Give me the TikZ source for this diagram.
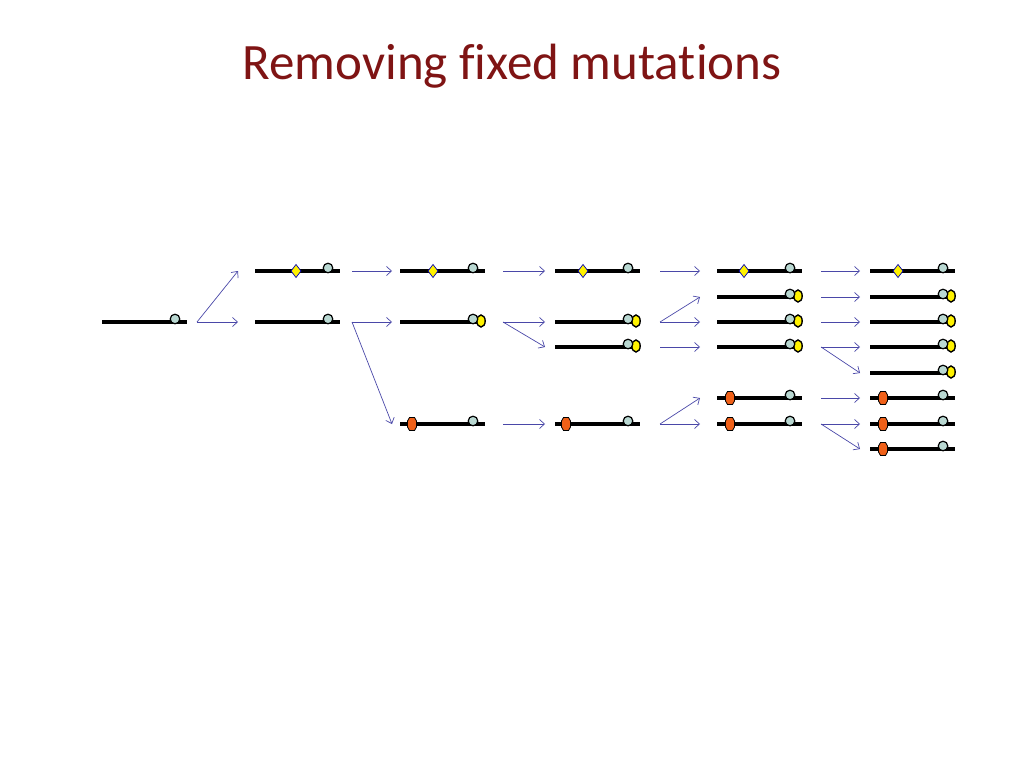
\documentclass[tikz,border=0pt]{standalone}
\usepackage{fontspec}
\setmainfont[Ligatures=NoCommon]{Carlito}
\usetikzlibrary{arrows.meta,shapes.geometric}

\definecolor{titlered}{HTML}{7F1414}
\definecolor{siteblue}{HTML}{B9D8D2}
\definecolor{arrblue}{HTML}{4A48A8}
\definecolor{fixorange}{HTML}{F06018}

\tikzset{
  chrline/.style={line width=3.2pt},
  arr/.style={draw=arrblue, line width=0.7pt, -{Straight Barb[length=5pt,width=9pt]}},
  basesite/.style={draw, fill=siteblue, line width=1.2pt},
  newsite/.style={draw, fill=yellow, line width=1.4pt},
  fixsite/.style={draw=blue!70!black, fill=yellow, line width=0.7pt},
  fixsitetwo/.style={draw, fill=fixorange, line width=0.8pt}
}

% chromosome: x of left end, y, name
\newcommand{\chrom}[3]{%
  \coordinate (#3W) at (#1,#2);
  \coordinate (#3E) at (#1+85,#2);
  \draw[chrline] (#3W) -- (#3E);
}
\newcommand{\siteB}[1]{\draw[basesite] ([xshift=-12,yshift=3]#1E) circle (4.8);}
\newcommand{\siteY}[1]{\draw[newsite] ([xshift=-4,yshift=1]#1E) ellipse (4.2 and 6);
  \draw[basesite] ([xshift=-12,yshift=3]#1E) circle (4.8);}
\newcommand{\siteD}[2]{\draw[fixsite] ([xshift=#2]#1W) ++(0,-6.5) -- ++(5,6.5) -- ++(-5,6.5) -- ++(-5,-6.5) -- cycle;}
\newcommand{\siteO}[2]{\draw[fixsitetwo] ([xshift=#2]#1W) ++(-4.5,-3) -- ++(2,-3.5) -- ++(5,0) -- ++(2,3.5) -- ++(0,6) -- ++(-2,3.5) -- ++(-5,0) -- ++(-2,-3.5) -- cycle;}

\begin{document}
\begin{tikzpicture}[x=1pt,y=-1pt]
  \useasboundingbox (0,0) rectangle (1024,768);

  % Titel
  \node[text=titlered, font=\fontsize{51}{60}\selectfont] (title) at (512,66) {Removing fixed mutations};

  % Generation 0
  \chrom{102}{322}{a}\siteB{a}

  % Generation 1
  \chrom{255}{271}{bA}\siteD{bA}{41}\siteB{bA}
  \chrom{255}{322}{bC}\siteB{bC}

  % Generation 2
  \chrom{400}{271}{cA}\siteD{cA}{33}\siteB{cA}
  \chrom{400}{322}{cC}\siteY{cC}
  \chrom{400}{424}{cG}\siteO{cG}{12}\siteB{cG}

  % Generation 3
  \chrom{555}{271}{dA}\siteD{dA}{28}\siteB{dA}
  \chrom{555}{322}{dC}\siteY{dC}
  \chrom{555}{347}{dD}\siteY{dD}
  \chrom{555}{424}{dG}\siteO{dG}{11}\siteB{dG}

  % Generation 4
  \chrom{717}{271}{eA}\siteD{eA}{27}\siteB{eA}
  \foreach \r/\y in {B/297,C/322,D/347}{\chrom{717}{\y}{e\r}\siteY{e\r}}
  \foreach \r/\y in {F/398,G/424}{\chrom{717}{\y}{e\r}\siteO{e\r}{13}\siteB{e\r}}

  % Generation 5
  \chrom{870}{271}{fA}\siteD{fA}{28}\siteB{fA}
  \foreach \r/\y in {B/297,C/322,D/347,E/373}{\chrom{870}{\y}{f\r}\siteY{f\r}}
  \foreach \r/\y in {F/398,G/424,H/449}{\chrom{870}{\y}{f\r}\siteO{f\r}{13}\siteB{f\r}}

  % Pfeile
  \draw[arr] ([xshift=10]aE) -- ([xshift=-17]bAW);
  \draw[arr] ([xshift=10]aE) -- ([xshift=-17]bCW);

  \draw[arr] ([xshift=12]bAE) -- ([xshift=-8]cAW);
  \draw[arr] ([xshift=12]bCE) -- ([xshift=-8]cCW);
  \draw[arr] ([xshift=12]bCE) -- ([xshift=-8]cGW);

  \draw[arr] ([xshift=18]cAE) -- ([xshift=-10]dAW);
  \draw[arr] ([xshift=18]cCE) -- ([xshift=-10]dCW);
  \draw[arr] ([xshift=18]cCE) -- ([xshift=-10]dDW);
  \draw[arr] ([xshift=18]cGE) -- ([xshift=-10]dGW);

  \draw[arr] ([xshift=20]dAE) -- ([xshift=-17]eAW);
  \draw[arr] ([xshift=20]dCE) -- ([xshift=-17]eBW);
  \draw[arr] ([xshift=20]dCE) -- ([xshift=-17]eCW);
  \draw[arr] ([xshift=20]dDE) -- ([xshift=-17]eDW);
  \draw[arr] ([xshift=20]dGE) -- ([xshift=-17]eFW);
  \draw[arr] ([xshift=20]dGE) -- ([xshift=-17]eGW);

  \foreach \r in {A,B,C}{\draw[arr] ([xshift=19]e\r E) -- ([xshift=-10]f\r W);}
  \draw[arr] ([xshift=19]eDE) -- ([xshift=-10]fDW);
  \draw[arr] ([xshift=19]eDE) -- ([xshift=-10]fEW);
  \draw[arr] ([xshift=19]eFE) -- ([xshift=-10]fFW);
  \draw[arr] ([xshift=19]eGE) -- ([xshift=-10]fGW);
  \draw[arr] ([xshift=19]eGE) -- ([xshift=-10]fHW);
\end{tikzpicture}
\end{document}
